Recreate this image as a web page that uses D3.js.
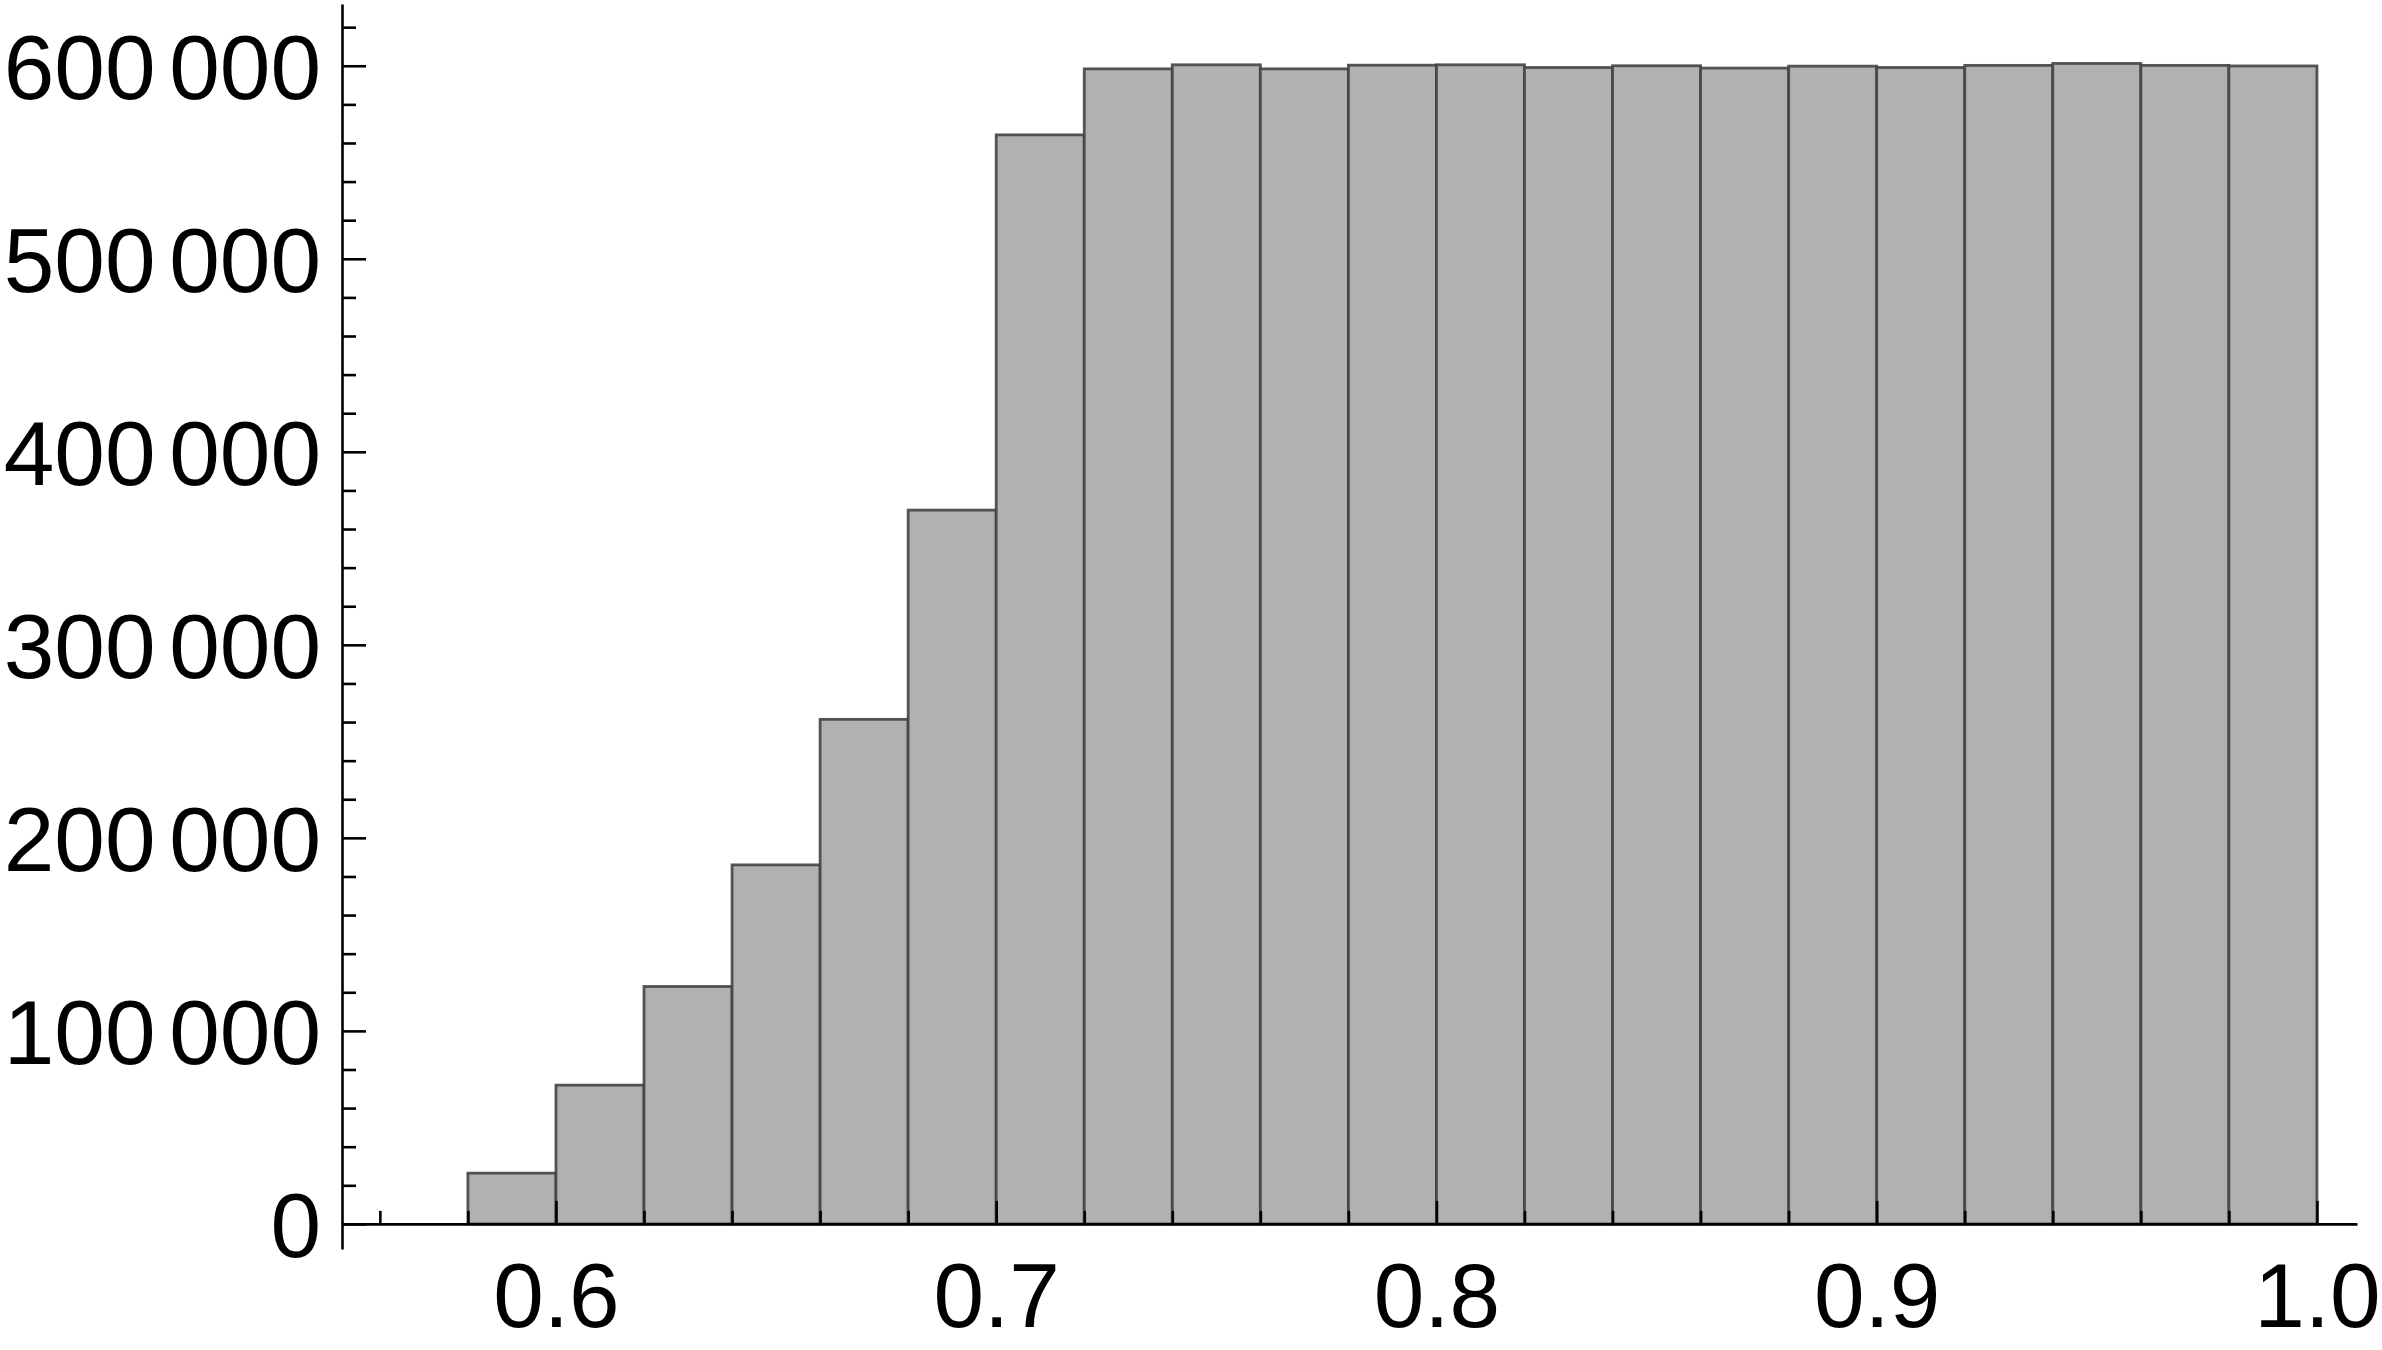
<!DOCTYPE html>
<html>
<head>
<meta charset="utf-8">
<script src="https://cdn.jsdelivr.net/npm/d3@7"></script>
<style>
  html, body { margin: 0; padding: 0; background: #ffffff; }
  svg { display: block; }
</style>
</head>
<body>
<svg id="chart" width="2382" height="1350"></svg>
<script>
// ---- data ----
const binStarts = [0.56, 0.58, 0.60, 0.62, 0.64, 0.66, 0.68, 0.70, 0.72, 0.74, 0.76,
                   0.78, 0.80, 0.82, 0.84, 0.86, 0.88, 0.90, 0.92, 0.94, 0.96, 0.98];
const binWidth = 0.02;
const counts = [0, 26300, 71900, 123000, 186000, 261400, 369800, 564200, 598400, 600500, 598400,
                600300, 600500, 599100, 600000, 598800, 599800, 599100, 600200, 601200, 600200, 599900];
const xTickValues = [0.6, 0.7, 0.8, 0.9, 1.0];
const xTickLabels = ["0.6", "0.7", "0.8", "0.9", "1.0"];
const xMinorTicks = [0.56, 0.58, 0.62, 0.64, 0.66, 0.68, 0.72, 0.74, 0.76, 0.78,
                     0.82, 0.84, 0.86, 0.88, 0.92, 0.94, 0.96, 0.98];
const yTickValues = [0, 100000, 200000, 300000, 400000, 500000, 600000];
const yTickLabels = [["0", ""], ["100", "000"], ["200", "000"], ["300", "000"],
                     ["400", "000"], ["500", "000"], ["600", "000"]];
const yMinorTicks = [20000, 40000, 60000, 80000, 120000, 140000, 160000, 180000,
                     220000, 240000, 260000, 280000, 320000, 340000, 360000, 380000,
                     420000, 440000, 460000, 480000, 520000, 540000, 560000, 580000, 620000];

// ---- layout ----
const svg = d3.select("#chart");
const x = d3.scaleLinear().domain([0.5514, 1.0091]).range([342, 2357]);
const y = d3.scaleLinear().domain([-13000, 632000]).range([1249, 4]);
const fontFamily = "'Liberation Sans', Arial, Helvetica, sans-serif";
const fontSize = 91;

svg.append("rect").attr("width", 2382).attr("height", 1350).attr("fill", "#ffffff");

// ---- bars ----
svg.append("g").selectAll("rect")
  .data(binStarts.map((s, i) => ({ s, c: counts[i] })))
  .join("rect")
  .attr("x", d => x(d.s))
  .attr("width", d => x(d.s + binWidth) - x(d.s))
  .attr("y", d => y(d.c))
  .attr("height", d => y(0) - y(d.c))
  .attr("fill", "#b1b1b1")
  .attr("stroke", "#444444")
  .attr("stroke-opacity", 0.9)
  .attr("stroke-width", 2.8);

// ---- y axis ----
const yAxisG = svg.append("g").attr("transform", `translate(${x.range()[0]},0)`);
yAxisG.call(d3.axisLeft(y).tickValues(yTickValues)
  .tickSizeInner(-24).tickSizeOuter(0).tickPadding(21).tickFormat(""));
const yMinorG = svg.append("g").attr("transform", `translate(${x.range()[0]},0)`);
yMinorG.call(d3.axisLeft(y).tickValues(yMinorTicks)
  .tickSizeInner(-14).tickSizeOuter(0).tickFormat(""));
yMinorG.select(".domain").remove();

// y labels with thin digit-group gap
yAxisG.selectAll(".tick").each(function(d, i) {
  const t = d3.select(this).select("text");
  t.text(null)
    .attr("x", -21)
    .attr("dy", "0.36em")
    .attr("text-anchor", "end")
    .attr("fill", "#000");
  const parts = yTickLabels[i];
  t.append("tspan").text(parts[0]);
  if (parts[1]) t.append("tspan").attr("dx", "0.15em").text(parts[1]);
});

// ---- x axis ----
const xAxisG = svg.append("g").attr("transform", `translate(0,${y(0)})`);
xAxisG.call(d3.axisBottom(x).tickValues(xTickValues)
  .tickSizeInner(-23).tickSizeOuter(0).tickPadding(38)
  .tickFormat((d, i) => xTickLabels[i]));
const xMinorG = svg.append("g").attr("transform", `translate(0,${y(0)})`);
xMinorG.call(d3.axisBottom(x).tickValues(xMinorTicks)
  .tickSizeInner(-13).tickSizeOuter(0).tickFormat(""));
xMinorG.select(".domain").remove();

// ---- styles ----
svg.selectAll(".domain").attr("stroke", "#000").attr("stroke-width", 2.6);
svg.selectAll(".tick line").attr("stroke", "#000").attr("stroke-width", 2.6);
svg.selectAll(".tick text")
  .attr("font-family", fontFamily)
  .attr("font-size", fontSize)
  .attr("fill", "#000");
[yAxisG, yMinorG, xAxisG, xMinorG].forEach(g => g.attr("font-family", fontFamily).attr("font-size", fontSize));
</script>
</body>
</html>
